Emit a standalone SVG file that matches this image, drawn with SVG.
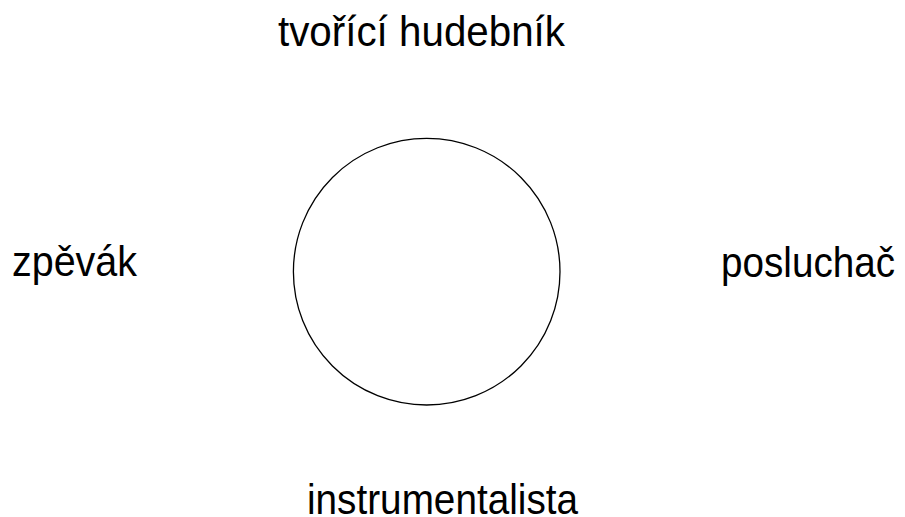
<svg xmlns="http://www.w3.org/2000/svg" width="905" height="517" viewBox="0 0 905 517">
<style>
.lbl{font-family:"Liberation Sans",Arial,sans-serif;font-size:42px;fill:#000}
</style>
<rect width="905" height="517" fill="#fff"/>
<g id="center"><circle cx="426.7" cy="271.7" r="133.3" fill="none" stroke="#000" stroke-width="1.3"/></g>
<g id="connectors"></g>
<g id="top"><text class="lbl" x="278" y="46" textLength="287" lengthAdjust="spacingAndGlyphs">tvořící hudebník</text></g>
<g id="left"><text class="lbl" x="12" y="276" textLength="125" lengthAdjust="spacingAndGlyphs">zpěvák</text></g>
<g id="right"><text class="lbl" x="721" y="277" textLength="174" lengthAdjust="spacingAndGlyphs">posluchač</text></g>
<g id="bottom"><text class="lbl" x="307" y="514" textLength="271" lengthAdjust="spacingAndGlyphs">instrumentalista</text></g>
</svg>
